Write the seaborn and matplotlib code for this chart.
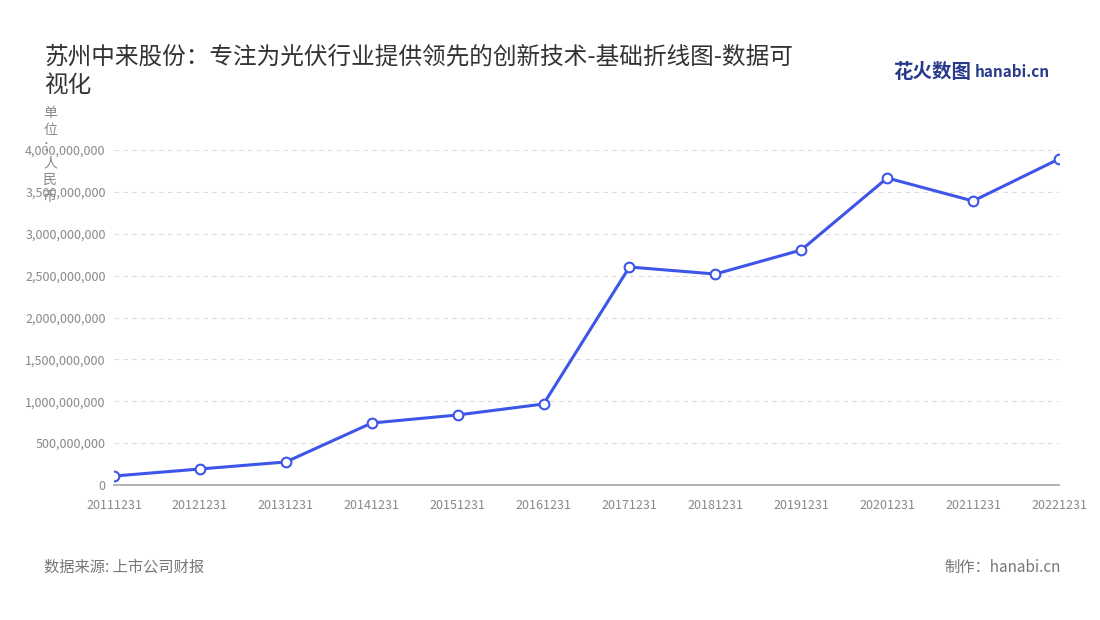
import matplotlib
matplotlib.use("Agg")
import matplotlib.pyplot as plt
import seaborn as sns
import pandas as pd
from matplotlib.ticker import FuncFormatter

dates = ["20111231","20121231","20131231","20141231","20151231","20161231",
         "20171231","20181231","20191231","20201231","20211231","20221231"]
values = [107e6, 191e6, 275e6, 740e6, 836e6, 967e6,
          2603e6, 2519e6, 2806e6, 3666e6, 3391e6, 3893e6]
yticks = [0, 5e8, 1e9, 1.5e9, 2e9, 2.5e9, 3e9, 3.5e9, 4e9]

sns.set_theme(style="white")
plt.rcParams['font.family'] = ['Noto Sans CJK SC', 'DejaVu Sans']

df = pd.DataFrame({"date": dates, "value": values})
df["x"] = range(len(dates))

fig = plt.figure(figsize=(11, 6.2), dpi=100)
ax = fig.add_axes([114/1100, 1-485/620, (1059-114)/1100, 335/620])
sns.lineplot(data=df, x="x", y="value", ax=ax, color="#3d55e8", linewidth=2.2,
             marker="o", markersize=7, markerfacecolor="white",
             markeredgecolor="#3d55e8", markeredgewidth=1.5)
ax.set_xlim(0, len(dates)-1)
ax.set_ylim(0, 4e9)
ax.set_xticks(range(len(dates)))
ax.set_xticklabels(dates)
ax.set_yticks(yticks)
ax.yaxis.set_major_formatter(FuncFormatter(lambda v, p: f"{int(v):,}"))
ax.tick_params(axis="both", labelsize=9, colors="#888888", length=0, pad=6)
ax.tick_params(axis="x", length=4, color="#aaaaaa")
ax.grid(axis="y", linestyle=(0, (4, 4)), color="#dddddd", linewidth=0.8)
for s in ["top", "right", "left"]:
    ax.spines[s].set_visible(False)
ax.spines["bottom"].set_color("#aaaaaa")
ax.set_xlabel("")
ax.set_ylabel("")

fig.text(44/1100, 1-71/620, "苏州中来股份：专注为光伏行业提供领先的创新技术-基础折线图-数据可\n视化",
         fontsize=17, color="#333333", va="center", ha="left", linespacing=1.3)
fig.text(50/1100, 1-155/620, "单\n位\n：\n人\n民\n币", fontsize=10, color="#888888",
         ha="center", va="center", linespacing=1.25)
fig.text(893/1100, 1-73/620, "花火数图", fontsize=14, color="#2a3a8a", weight="bold", va="center")
fig.text(975/1100, 1-72/620, "hanabi.cn", fontsize=11, color="#2a3a8a", weight="bold", va="center")
fig.text(44/1100, 1-567/620, "数据来源: 上市公司财报", fontsize=11, color="#777777", va="center")
fig.text(1061/1100, 1-567/620, "制作：hanabi.cn", fontsize=11, color="#777777", va="center", ha="right")
fig.savefig("out.png", dpi=100)
